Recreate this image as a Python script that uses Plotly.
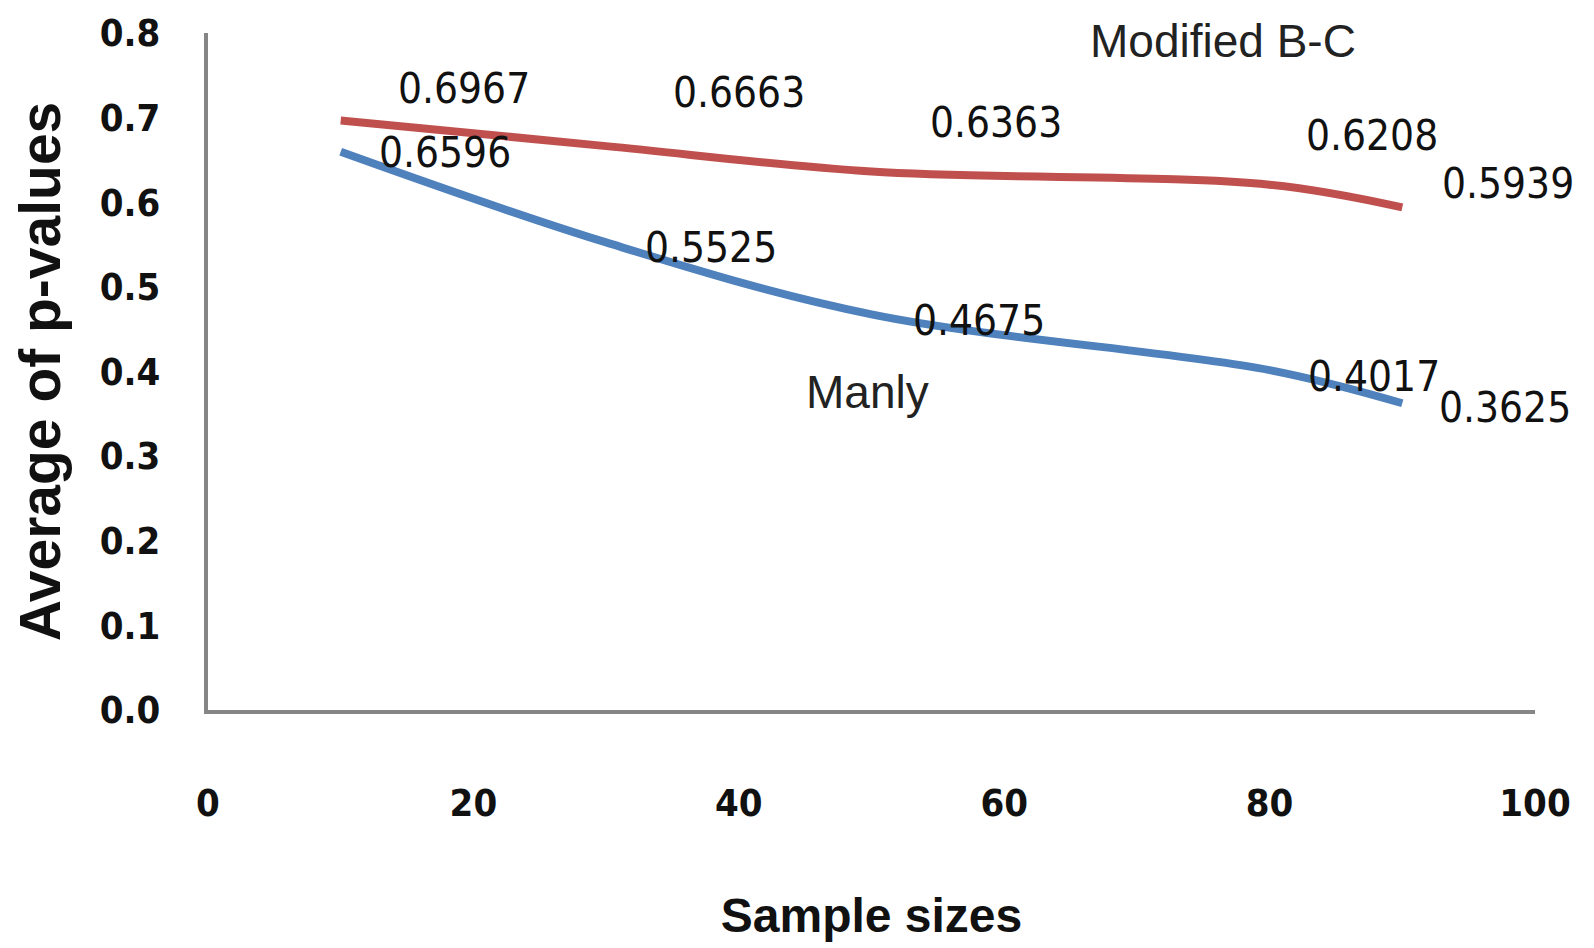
import plotly.graph_objects as go

# ---- data ----
sample_sizes = [10, 30, 50, 80, 90]
modified_bc = [0.6967, 0.6663, 0.6363, 0.6208, 0.5939]
manly = [0.6596, 0.5525, 0.4675, 0.4017, 0.3625]
x_ticks = [0, 20, 40, 60, 80, 100]
y_ticks = [0.0, 0.1, 0.2, 0.3, 0.4, 0.5, 0.6, 0.7, 0.8]

# label offsets in pixels (style only)
bc_label_shift = [(123, 32), (133, 54), (124, 49), (102, 49), (106, 24)]
manly_label_shift = [(104, -1), (105, -5), (107, -6), (104, -6), (103, -4)]

RED = "#C0504D"
BLUE = "#4F81BD"
NARROW = "DejaVu Sans Condensed, Liberation Sans Narrow, sans-serif"
REG = "Liberation Sans, Arial, sans-serif"

fig = go.Figure()
fig.add_trace(go.Scatter(x=sample_sizes, y=modified_bc, mode="lines",
                         line=dict(color=RED, width=8, shape="spline", smoothing=1.0),
                         name="Modified B-C", showlegend=False))
fig.add_trace(go.Scatter(x=sample_sizes, y=manly, mode="lines",
                         line=dict(color=BLUE, width=8, shape="spline", smoothing=1.0),
                         name="Manly", showlegend=False))

annotations = []
for xv, yv, (dx, dy) in zip(sample_sizes, modified_bc, bc_label_shift):
    annotations.append(dict(x=xv, y=yv, xref="x", yref="y", text=f"{yv:.4f}",
                            showarrow=False, xshift=dx, yshift=dy,
                            font=dict(family=NARROW, size=42, color="#111111")))
for xv, yv, (dx, dy) in zip(sample_sizes, manly, manly_label_shift):
    annotations.append(dict(x=xv, y=yv, xref="x", yref="y", text=f"{yv:.4f}",
                            showarrow=False, xshift=dx, yshift=dy,
                            font=dict(family=NARROW, size=42, color="#111111")))
annotations.append(dict(x=76.5, y=0.79, xref="x", yref="y", text="Modified B-C",
                        showarrow=False, font=dict(family=REG, size=46, color="#222222")))
annotations.append(dict(x=49.7, y=0.376, xref="x", yref="y", text="Manly",
                        showarrow=False, font=dict(family=REG, size=46, color="#222222")))

fig.update_layout(
    width=1594, height=948,
    margin=dict(l=208, r=59, t=33, b=238),
    plot_bgcolor="white", paper_bgcolor="white",
    annotations=annotations,
    xaxis=dict(range=[0, 100], tickvals=x_ticks,
               ticktext=[f"<b>{v}</b>" for v in x_ticks],
               showgrid=False, zeroline=False, showline=True, linecolor="#868686",
               linewidth=4, ticks="", ticklabelstandoff=56,
               tickfont=dict(family=NARROW, size=38, color="#111111"),
               title=dict(text="<b>Sample sizes</b>", standoff=76,
                          font=dict(family=REG, size=48, color="#111111"))),
    yaxis=dict(range=[0, 0.8], tickvals=y_ticks,
               ticktext=[f"<b>{v:.1f}</b>" for v in y_ticks],
               showgrid=False, zeroline=False, showline=True, linecolor="#868686",
               linewidth=4, ticks="", ticklabelstandoff=36,
               tickfont=dict(family=NARROW, size=38, color="#111111"),
               title=dict(text="<b>Average of p-values</b>", standoff=22,
                          font=dict(family=REG, size=57, color="#111111"))),
)

fig.write_html("out.html")
